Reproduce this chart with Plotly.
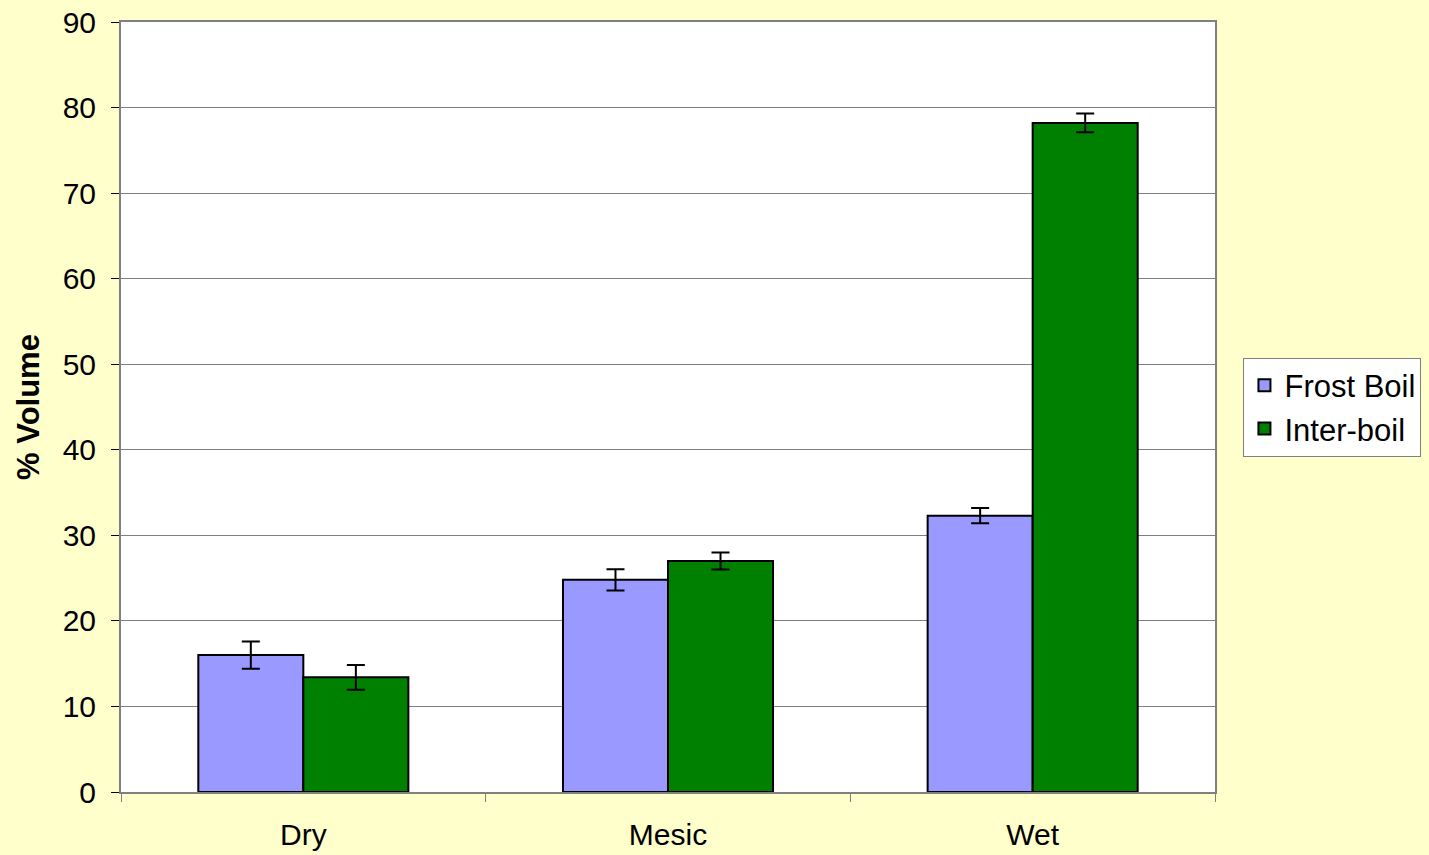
import plotly.graph_objects as go

categories = ["Dry", "Mesic", "Wet"]
frost_boil = [16.0, 24.8, 32.3]
frost_boil_err = [1.6, 1.25, 0.9]
inter_boil = [13.4, 27.0, 78.2]
inter_boil_err = [1.45, 1.0, 1.1]
y_ticks = [0, 10, 20, 30, 40, 50, 60, 70, 80, 90]

FONT = "Liberation Sans, Arial, sans-serif"

fig = go.Figure()
fig.add_trace(go.Bar(
    name="Frost Boil", x=categories, y=frost_boil,
    marker=dict(color="#9999FF", line=dict(color="black", width=2)),
    error_y=dict(type="data", array=frost_boil_err, color="black", thickness=2, width=9),
))
fig.add_trace(go.Bar(
    name="Inter-boil", x=categories, y=inter_boil,
    marker=dict(color="#008000", line=dict(color="black", width=2)),
    error_y=dict(type="data", array=inter_boil_err, color="black", thickness=2, width=9),
))

fig.update_layout(
    width=1429, height=855,
    paper_bgcolor="#FFFFCC", plot_bgcolor="white",
    margin=dict(l=121, r=214, t=22, b=63, autoexpand=False),
    barmode="group", bargap=0.424, bargroupgap=0,
    font=dict(family=FONT, size=30, color="black"),
    showlegend=True,
    legend=dict(x=1.026, y=0.5, xanchor="left", yanchor="middle",
                bgcolor="white", bordercolor="#808080", borderwidth=1,
                font=dict(size=31), tracegroupgap=8),
    xaxis=dict(showline=True, linecolor="#808080", linewidth=2, mirror=True,
               ticks="outside", tickson="boundaries", ticklen=8, tickcolor="#808080",
               tickfont=dict(size=30), showgrid=False, ticklabelstandoff=15,
               automargin=False),
    yaxis=dict(range=[0, 90], tickvals=y_ticks, showline=True, linecolor="#808080",
               linewidth=2, mirror=True, ticks="outside", ticklen=8, tickcolor="black",
               showgrid=True, gridcolor="#808080", gridwidth=1, zeroline=False,
               tickfont=dict(size=30), ticklabelstandoff=9, automargin=False,
               title=dict(text="<b>% Volume</b>", font=dict(size=31), standoff=14)),
)

fig.write_html("out.html", config={"displayModeBar": False},
               post_script="document.body.style.margin='0';document.body.style.padding='0';")
